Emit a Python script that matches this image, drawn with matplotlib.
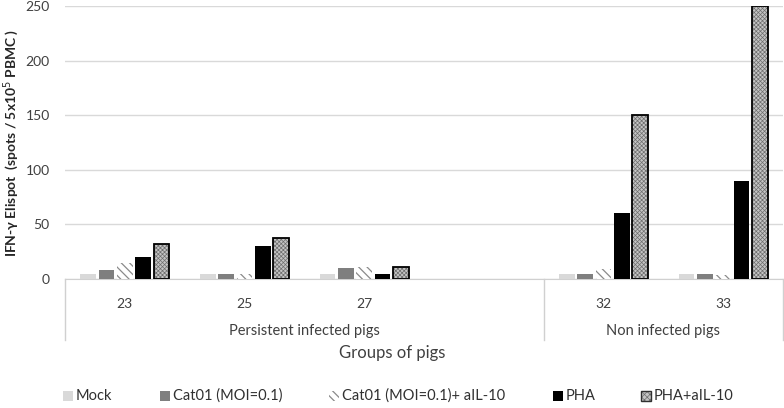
import matplotlib
matplotlib.use("Agg")
import matplotlib.pyplot as plt
import matplotlib.transforms as mtransforms
from matplotlib.patches import Rectangle
import numpy as np

plt.rcParams['font.family'] = ['Lato', 'DejaVu Sans']
plt.rcParams['hatch.linewidth'] = 0.8

pigs = ["23", "25", "27", "", "32", "33"]
groups = ["Persistent infected pigs", "Non infected pigs"]
group_spans = [(0, 3), (4, 5)]
series_names = ["Mock", "Cat01 (MOI=0.1)", "Cat01 (MOI=0.1)+ aIL-10", "PHA", "PHA+aIL-10"]
mock = [5, 5, 5, np.nan, 5, 5]
cat01 = [8, 5, 10, np.nan, 5, 5]
cat01_il10 = [15, 5, 11, np.nan, 9, 4]
pha = [20, 30, 5, np.nan, 60, 90]
pha_il10 = [32, 38, 11, np.nan, 150, 250]
yticks = [0, 50, 100, 150, 200, 250]

W, H = 784, 408
fig = plt.figure(figsize=(W / 100, H / 100), dpi=100)
ax = fig.add_axes([65 / W, 1 - 279 / H, (783 - 65) / W, (279 - 6) / H])

x = np.arange(len(pigs))
step = 0.153
bw = 0.13
offs = (np.arange(5) - 2) * step

styles = [
    dict(facecolor="#d9d9d9", edgecolor="none", hatch=None, lw=0, hlw=0.8),
    dict(facecolor="#7f7f7f", edgecolor="none", hatch=None, lw=0, hlw=0.8),
    dict(facecolor="white", edgecolor="#8a8a8a", hatch="\\\\\\\\", lw=0, hlw=0.9),
    dict(facecolor="black", edgecolor="none", hatch=None, lw=0, hlw=0.8),
    dict(facecolor="#c4c4c4", edgecolor="#6e6e6e", hatch="xxxxxxxx", lw=0, hlw=0.5),
]
values = [mock, cat01, cat01_il10, pha, pha_il10]

for i, (vals, st) in enumerate(zip(values, styles)):
    with plt.rc_context({"hatch.linewidth": st["hlw"]}):
        ax.bar(x + offs[i], vals, bw, facecolor=st["facecolor"],
               edgecolor=st["edgecolor"], hatch=st["hatch"], linewidth=st["lw"],
               zorder=3)
ax.bar(x + offs[4], pha_il10, bw, fill=False, edgecolor="black",
       linewidth=1.3, zorder=4)

ax.set_xlim(-0.5, len(pigs) - 0.5)
ax.set_ylim(0, 250)
ax.set_yticks(yticks)
ax.tick_params(axis="y", length=0, labelsize=10, colors="#404040", pad=11)
ax.tick_params(axis="x", length=0, labelsize=10, colors="#404040", pad=14)
ax.set_xticks(x)
ax.set_xticklabels(pigs)
ax.grid(axis="y", color="#d9d9d9", linewidth=1, zorder=0)
for s in ["top", "right", "left"]:
    ax.spines[s].set_visible(False)
ax.spines["bottom"].set_color("#d0d0d0")

ax.set_ylabel("IFN-γ Elispot  (spots / 5x10$^5$ PBMC )", fontsize=10,
              fontweight="bold", color="#262626", labelpad=3)

trans = mtransforms.blended_transform_factory(ax.transData, ax.transAxes)
depth = -(340 - 279) / (279 - 6)
for xv in [-0.5, 3.5, 5.5]:
    ax.plot([xv, xv], [0, depth], transform=trans, color="#d0d0d0",
            linewidth=1, clip_on=False)
for g, (a, b) in zip(groups, group_spans):
    ax.text((a + b) / 2, -(331 - 279) / (279 - 6), g, transform=trans,
            ha="center", va="center", fontsize=10.5, color="#404040")

fig.text(0.5, 1 - 353 / H, "Groups of pigs", ha="center",
         va="center", fontsize=12, color="#404040")

# legend drawn manually in figure pixel positions
leg_y = 396
marker_x = [63, 160, 329, 553, 641]
sz = 10
for name, mx, st in zip(series_names, marker_x, styles):
    if st["hatch"] is not None and st["facecolor"] == "white":
        with plt.rc_context({"hatch.linewidth": 0.9}):
            r = Rectangle((mx / W, 1 - (leg_y + sz / 2) / H), sz / W, sz / H,
                          transform=fig.transFigure, facecolor="white",
                          edgecolor="#8a8a8a", hatch="\\\\\\\\", linewidth=0)
        fig.add_artist(r)
    elif st["hatch"] is not None:
        with plt.rc_context({"hatch.linewidth": 0.5}):
            r = Rectangle((mx / W, 1 - (leg_y + sz / 2) / H), sz / W, sz / H,
                          transform=fig.transFigure, facecolor="#c4c4c4",
                          edgecolor="#6e6e6e", hatch="xxxxxx", linewidth=0)
        fig.add_artist(r)
        fig.add_artist(Rectangle((mx / W, 1 - (leg_y + sz / 2) / H), sz / W, sz / H,
                                 transform=fig.transFigure, fill=False,
                                 edgecolor="#303030", linewidth=1))
    else:
        fig.add_artist(Rectangle((mx / W, 1 - (leg_y + sz / 2) / H), sz / W, sz / H,
                                 transform=fig.transFigure,
                                 facecolor=st["facecolor"], edgecolor="none"))
    fig.text((mx + sz + 3) / W, 1 - leg_y / H, name, ha="left", va="center",
             fontsize=10.5, color="#303030")

fig.savefig("out.png", dpi=100)
